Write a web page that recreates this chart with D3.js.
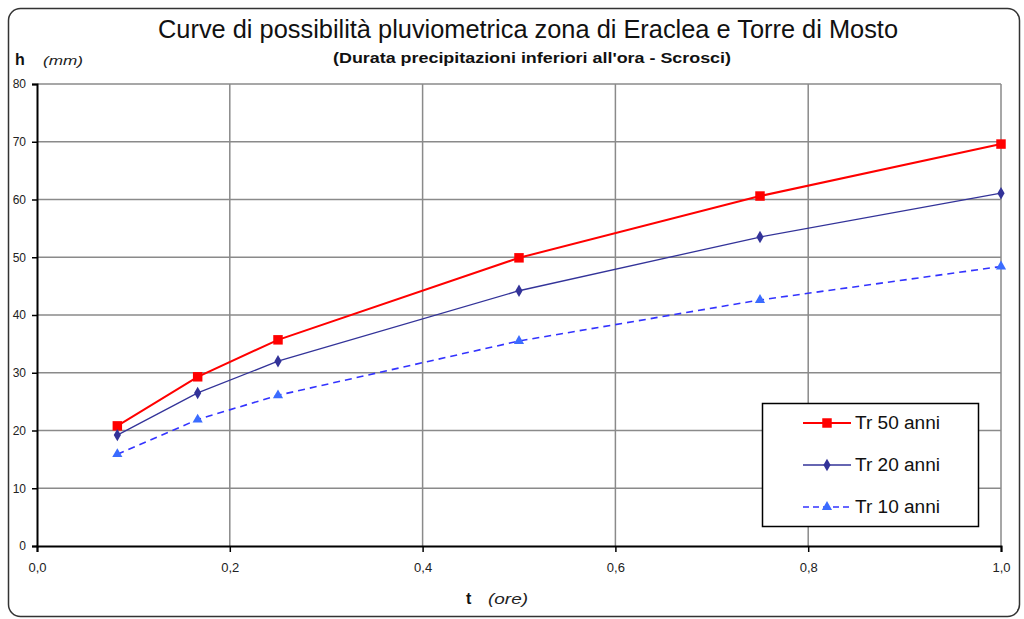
<!DOCTYPE html>
<html>
<head>
<meta charset="utf-8">
<script src="https://cdnjs.cloudflare.com/ajax/libs/d3/7.8.5/d3.min.js"></script>
<style>
  body { margin: 0; background: #fff; }
  text { font-family: "Liberation Sans", Arial, sans-serif; }
</style>
</head>
<body>
<div id="chart"></div>
<script>
// durata (ore)
var durations = [1 / 12, 1 / 6, 0.25, 0.5, 0.75, 1.0];
// altezza di pioggia h (mm)
var tr50 = [20.8, 29.3, 35.7, 49.9, 60.6, 69.6];
var tr20 = [19.2, 26.5, 32.0, 44.2, 53.5, 61.1];
var tr10 = [15.9, 21.9, 26.1, 35.5, 42.6, 48.4];
var seriesNames = ["Tr 50 anni", "Tr 20 anni", "Tr 10 anni"];
var xTicks = [0, 0.2, 0.4, 0.6, 0.8, 1.0];
var yTicks = [0, 10, 20, 30, 40, 50, 60, 70, 80];

var svgWidth = 1024;
var svgHeight = 619;

var svg = d3.select("#chart")
  .append("svg")
  .attr("width", svgWidth)
  .attr("height", svgHeight);

// cornice arrotondata
svg.append("rect")
  .attr("x", 8.5).attr("y", 8.5)
  .attr("width", 1011).attr("height", 608)
  .attr("rx", 12)
  .attr("fill", "#fff")
  .attr("stroke", "#333")
  .attr("stroke-width", 1.5);

var xScale = d3.scaleLinear().domain([0, 1]).range([37, 1001]);
var yScale = d3.scaleLinear().domain([0, 80]).range([546, 84]);

// griglia
svg.append("g").selectAll("line.hgrid")
  .data(yTicks.filter(d => d > 0)).enter()
  .append("line")
  .attr("x1", xScale(0)).attr("x2", xScale(1))
  .attr("y1", d => yScale(d)).attr("y2", d => yScale(d))
  .attr("stroke", "#8a8a8a").attr("stroke-width", 1.5);

svg.append("g").selectAll("line.vgrid")
  .data(xTicks.filter(d => d > 0)).enter()
  .append("line")
  .attr("x1", d => xScale(d)).attr("x2", d => xScale(d))
  .attr("y1", yScale(0)).attr("y2", yScale(80))
  .attr("stroke", "#8a8a8a").attr("stroke-width", 1.5);

// assi
var bottomAxis = d3.axisBottom(xScale)
  .tickValues(xTicks)
  .tickSize(6)
  .tickFormat(d => d3.format(".1f")(d).replace(".", ","));
var leftAxis = d3.axisLeft(yScale)
  .tickValues(yTicks)
  .tickSize(5)
  .tickFormat(d3.format("d"));

var xAxis = svg.append("g")
  .attr("transform", `translate(0, ${yScale(0)})`)
  .call(bottomAxis);
xAxis.select(".domain").attr("stroke", "#000").attr("stroke-width", 2);
xAxis.selectAll(".tick line").attr("stroke", "#000").attr("stroke-width", 1.5);
xAxis.selectAll(".tick text")
  .attr("font-family", "Liberation Sans, Arial, sans-serif")
  .attr("font-size", "13px")
  .attr("fill", "#222")
  .attr("y", 26)
  .attr("dy", null);

var yAxis = svg.append("g")
  .attr("transform", `translate(${xScale(0)}, 0)`)
  .call(leftAxis);
yAxis.select(".domain").attr("stroke", "#000").attr("stroke-width", 2);
yAxis.selectAll(".tick line").attr("stroke", "#000").attr("stroke-width", 1.5);
yAxis.selectAll(".tick text")
  .attr("font-family", "Liberation Sans, Arial, sans-serif")
  .attr("font-size", "12px")
  .attr("fill", "#222")
  .attr("x", -11);

// serie
var series = [
  { name: seriesNames[0], values: tr50, line: "#ff0000", marker: "#ff0000", width: 2, dash: null, symbol: d3.symbolSquare, size: 90 },
  { name: seriesNames[1], values: tr20, line: "#333399", marker: "#333399", width: 1.3, dash: null, symbol: d3.symbolDiamond, size: 45 },
  { name: seriesNames[2], values: tr10, line: "#3333ff", marker: "#3b6cff", width: 1.6, dash: "7,5", symbol: d3.symbolTriangle, size: 45 }
];

var line = d3.line()
  .x(d => xScale(d[0]))
  .y(d => yScale(d[1]));

series.forEach(function(s) {
  var pts = durations.map((t, i) => [t, s.values[i]]);
  svg.append("path")
    .datum(pts)
    .attr("d", line)
    .attr("fill", "none")
    .attr("stroke", s.line)
    .attr("stroke-width", s.width)
    .attr("stroke-dasharray", s.dash);

  svg.append("g").selectAll("path")
    .data(pts).enter()
    .append("path")
    .attr("d", d3.symbol().type(s.symbol).size(s.size))
    .attr("transform", d => `translate(${xScale(d[0])}, ${yScale(d[1])})`)
    .attr("fill", s.marker);
});

// legenda
var legend = svg.append("g");
legend.append("rect")
  .attr("x", 762.5).attr("y", 403.5)
  .attr("width", 216).attr("height", 123)
  .attr("fill", "#fff")
  .attr("stroke", "#000")
  .attr("stroke-width", 1.5);

series.forEach(function(s, i) {
  var ly = 423 + i * 42;
  legend.append("line")
    .attr("x1", 803).attr("x2", 851)
    .attr("y1", ly).attr("y2", ly)
    .attr("stroke", s.line)
    .attr("stroke-width", s.width)
    .attr("stroke-dasharray", s.dash ? "6,4" : null);
  legend.append("path")
    .attr("d", d3.symbol().type(s.symbol).size(s.size))
    .attr("transform", `translate(827, ${ly})`)
    .attr("fill", s.marker);
  legend.append("text")
    .attr("x", 855).attr("y", ly + 6)
    .attr("font-size", "18px")
    .attr("textLength", 85)
    .attr("lengthAdjust", "spacingAndGlyphs")
    .attr("fill", "#111")
    .text(s.name);
});

// titoli
svg.append("text")
  .attr("x", 158).attr("y", 38)
  .attr("font-size", "25px")
  .attr("textLength", 740)
  .attr("lengthAdjust", "spacingAndGlyphs")
  .attr("fill", "#111")
  .text("Curve di possibilità pluviometrica zona di Eraclea e Torre di Mosto");

svg.append("text")
  .attr("x", 333).attr("y", 63)
  .attr("font-size", "14px")
  .attr("font-weight", "bold")
  .attr("textLength", 398)
  .attr("lengthAdjust", "spacingAndGlyphs")
  .attr("fill", "#111")
  .text("(Durata precipitazioni inferiori all'ora - Scrosci)");

svg.append("text")
  .attr("x", 15).attr("y", 65)
  .attr("font-size", "16px").attr("font-weight", "bold")
  .attr("fill", "#111")
  .text("h");
svg.append("text")
  .attr("x", 43).attr("y", 65)
  .attr("font-size", "13px").attr("font-style", "italic")
  .attr("textLength", 40)
  .attr("lengthAdjust", "spacingAndGlyphs")
  .attr("fill", "#222")
  .text("(mm)");

svg.append("text")
  .attr("x", 466).attr("y", 604)
  .attr("font-size", "16px").attr("font-weight", "bold")
  .attr("fill", "#111")
  .text("t");
svg.append("text")
  .attr("x", 488).attr("y", 604)
  .attr("font-size", "14px").attr("font-style", "italic")
  .attr("textLength", 40)
  .attr("lengthAdjust", "spacingAndGlyphs")
  .attr("fill", "#222")
  .text("(ore)");
</script>
</body>
</html>
